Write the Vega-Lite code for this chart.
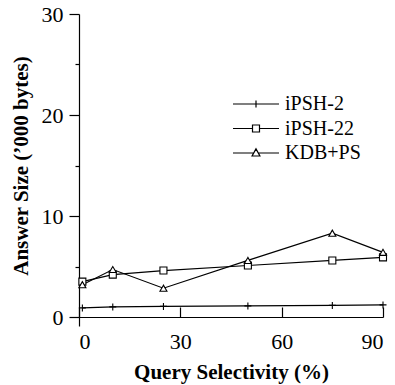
{
  "$schema": "https://vega.github.io/schema/vega-lite/v6.json",
  "width": 304,
  "height": 303,
  "autosize": {"type": "none"},
  "padding": {"left": 79, "top": 14, "right": 12, "bottom": 68},
  "background": "white",
  "config": {
    "view": {"stroke": null},
    "axis": {
      "domainColor": "black", "tickColor": "black", "labelColor": "black", "titleColor": "black",
      "labelFont": "Liberation Serif", "labelFontSize": 22, "titleFont": "Liberation Serif",
      "titleFontSize": 21, "titleFontWeight": "bold", "grid": false, "domainWidth": 1.2, "tickWidth": 1.2
    }
  },
  "data": {"values": [
    {"series": "iPSH-2", "x": 1, "y": 0.9},
    {"series": "iPSH-2", "x": 10, "y": 1.0},
    {"series": "iPSH-2", "x": 25, "y": 1.05},
    {"series": "iPSH-2", "x": 50, "y": 1.1},
    {"series": "iPSH-2", "x": 75, "y": 1.15},
    {"series": "iPSH-2", "x": 90, "y": 1.2},
    {"series": "iPSH-22", "x": 1, "y": 3.5},
    {"series": "iPSH-22", "x": 10, "y": 4.2},
    {"series": "iPSH-22", "x": 25, "y": 4.6},
    {"series": "iPSH-22", "x": 50, "y": 5.1},
    {"series": "iPSH-22", "x": 75, "y": 5.6},
    {"series": "iPSH-22", "x": 90, "y": 5.9},
    {"series": "KDB+PS", "x": 1, "y": 3.2},
    {"series": "KDB+PS", "x": 10, "y": 4.7},
    {"series": "KDB+PS", "x": 25, "y": 2.85},
    {"series": "KDB+PS", "x": 50, "y": 5.6},
    {"series": "KDB+PS", "x": 75, "y": 8.3},
    {"series": "KDB+PS", "x": 90, "y": 6.4}
  ]},
  "resolve": {"axis": {"x": "independent", "y": "independent"}},
  "layer": [
    {
      "mark": {"type": "line", "strokeWidth": 1.2},
      "encoding": {
        "x": {"field": "x", "type": "quantitative", "scale": {"domain": [0, 90], "nice": false, "zero": false},
          "axis": {"orient": "bottom", "values": [0, 30, 60, 90], "tickSize": -10, "labelPadding": 24, "title": "Query Selectivity (%)", "titlePadding": 9}},
        "y": {"field": "y", "type": "quantitative", "scale": {"domain": [0, 30], "nice": false},
          "axis": {"orient": "left", "values": [0, 10, 20, 30], "tickSize": 10, "labelPadding": 6, "title": "Answer Size (’000 bytes)", "titlePadding": 10}},
        "stroke": {"field": "series", "type": "nominal",
          "scale": {"domain": ["iPSH-2", "iPSH-22", "KDB+PS"], "range": ["black", "black", "black"]},
          "legend": {"title": null, "orient": "none", "legendX": 153, "legendY": 80, "symbolType": "stroke", "symbolSize": 2116, "symbolStrokeWidth": 1.2, "symbolStrokeColor": "black",
            "labelFont": "Liberation Serif", "labelFontSize": 20, "labelColor": "black", "labelOffset": 5, "clipHeight": 20, "rowPadding": 4.5, "padding": 0,
            "encode": {"symbols": {"update": {
              "shape": {"signal": "datum.value === 'iPSH-2' ? 'M-1,0H1M0,-0.15V0.15' : datum.value === 'iPSH-22' ? 'M-1,0H-0.152M0.152,0H1M-0.152,-0.152H0.152V0.152H-0.152Z' : 'M-1,0H-0.1M0.1,0H1M0,-0.18L0.17,0.13H-0.17Z'"},
              "fill": {"value": "transparent"}}}}}}
      }
    },
    {
      "mark": {"type": "point", "fill": "white", "stroke": "black", "strokeWidth": 1.1, "size": 49, "opacity": 1, "filled": false},
      "encoding": {
        "x": {"field": "x", "type": "quantitative",
          "axis": {"orient": "bottom", "values": [0], "tickSize": 9, "labels": false, "domain": false, "title": null}},
        "y": {"field": "y", "type": "quantitative",
          "axis": {"orient": "left", "values": [5, 15, 25], "tickSize": 4, "labels": false, "domain": false, "title": null}},
        "shape": {"field": "series", "type": "nominal", "sort": ["iPSH-2", "iPSH-22", "KDB+PS"],
          "scale": {"range": ["M-1,0H1M0,-1V1", "square", "triangle-up"]},
          "legend": null}
      }
    }
  ]
}
